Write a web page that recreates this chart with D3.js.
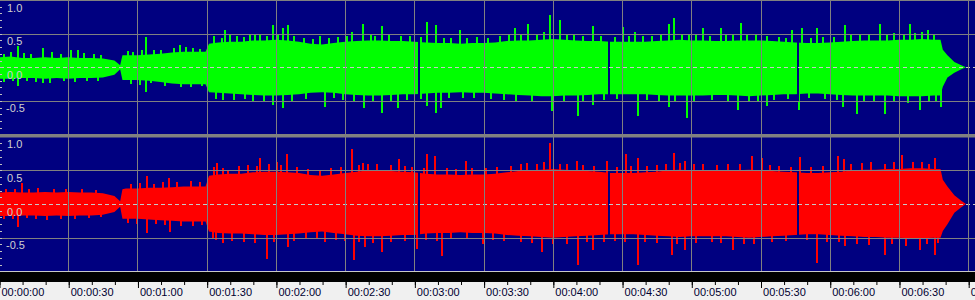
<!DOCTYPE html>
<html>
<head>
<meta charset="utf-8">
<script src="https://cdn.jsdelivr.net/npm/d3@7"></script>
<style>
  html, body { margin: 0; padding: 0; background: #f0f0f0; overflow: hidden; }
  svg { display: block; }
  text { font-family: "Liberation Sans", Arial, sans-serif; font-size: 11px; }
</style>
</head>
<body>
<div id="chart"></div>
<script>
const width = 975, height = 300;

// envelope sample times (seconds)
const envTimes = [
  0, 5, 10, 15, 20, 25, 30, 35, 40, 45,
  50, 52.5, 53.5, 55, 60, 65, 70, 75, 80, 85,
  89.5, 91, 95, 100, 105, 110, 115, 120, 125, 130,
  135, 140, 145, 150, 155, 160, 165, 170, 175, 180,
  185, 190, 195, 200, 205, 210, 215, 220, 225, 230,
  235, 240, 245, 250, 255, 260, 265, 270, 275, 280,
  285, 290, 295, 300, 305, 310, 315, 320, 325, 330,
  335, 340, 345, 350, 355, 360, 365, 370, 375, 380,
  385, 390, 395, 400, 405, 408, 409, 411, 414, 417,
  419
];

// left channel (green) body, upper and lower extent
const greenTop = [
  0.15, 0.16, 0.14, 0.14, 0.15, 0.14, 0.15, 0.14, 0.14, 0.13,
  0.10, 0.03, 0.18, 0.18, 0.18, 0.19, 0.20, 0.22, 0.23, 0.23,
  0.23, 0.35, 0.37, 0.38, 0.38, 0.40, 0.40, 0.41, 0.40, 0.38,
  0.35, 0.34, 0.36, 0.38, 0.39, 0.40, 0.40, 0.39, 0.39, 0.38,
  0.37, 0.36, 0.36, 0.35, 0.36, 0.36, 0.37, 0.39, 0.40, 0.40,
  0.41, 0.42, 0.41, 0.40, 0.39, 0.39, 0.38, 0.38, 0.38, 0.38,
  0.39, 0.40, 0.41, 0.40, 0.40, 0.39, 0.39, 0.40, 0.40, 0.40,
  0.39, 0.38, 0.37, 0.36, 0.36, 0.37, 0.38, 0.39, 0.40, 0.40,
  0.40, 0.41, 0.41, 0.42, 0.41, 0.41, 0.26, 0.18, 0.08, 0.03,
  0.0
];
const greenBottom = [
  0.17, 0.17, 0.16, 0.16, 0.17, 0.16, 0.17, 0.16, 0.16, 0.15,
  0.11, 0.03, 0.19, 0.19, 0.19, 0.20, 0.22, 0.24, 0.25, 0.25,
  0.25, 0.37, 0.38, 0.39, 0.40, 0.41, 0.42, 0.42, 0.41, 0.40,
  0.38, 0.37, 0.38, 0.40, 0.41, 0.42, 0.42, 0.41, 0.40, 0.40,
  0.39, 0.38, 0.38, 0.37, 0.38, 0.38, 0.39, 0.40, 0.41, 0.42,
  0.43, 0.43, 0.42, 0.42, 0.41, 0.40, 0.40, 0.40, 0.40, 0.40,
  0.41, 0.42, 0.42, 0.42, 0.42, 0.41, 0.41, 0.42, 0.43, 0.42,
  0.41, 0.40, 0.40, 0.39, 0.39, 0.40, 0.41, 0.42, 0.42, 0.42,
  0.42, 0.43, 0.43, 0.43, 0.42, 0.42, 0.29, 0.15, 0.08, 0.03,
  0.0
];

// right channel (red) body
const redTop = [
  0.17, 0.18, 0.17, 0.17, 0.18, 0.17, 0.18, 0.17, 0.17, 0.16,
  0.12, 0.04, 0.22, 0.23, 0.23, 0.24, 0.24, 0.25, 0.26, 0.26,
  0.26, 0.42, 0.44, 0.45, 0.45, 0.47, 0.48, 0.48, 0.47, 0.46,
  0.43, 0.42, 0.44, 0.46, 0.48, 0.50, 0.50, 0.49, 0.48, 0.47,
  0.45, 0.44, 0.44, 0.43, 0.44, 0.44, 0.45, 0.47, 0.49, 0.50,
  0.51, 0.52, 0.51, 0.50, 0.49, 0.48, 0.46, 0.46, 0.46, 0.47,
  0.48, 0.50, 0.51, 0.50, 0.50, 0.49, 0.49, 0.50, 0.51, 0.50,
  0.49, 0.48, 0.47, 0.46, 0.46, 0.47, 0.48, 0.50, 0.51, 0.51,
  0.52, 0.52, 0.53, 0.53, 0.52, 0.52, 0.36, 0.26, 0.13, 0.05,
  0.0
];
const redBottom = [
  0.18, 0.18, 0.17, 0.17, 0.18, 0.17, 0.18, 0.17, 0.17, 0.16,
  0.12, 0.04, 0.22, 0.22, 0.22, 0.23, 0.24, 0.25, 0.26, 0.26,
  0.26, 0.41, 0.43, 0.44, 0.44, 0.45, 0.46, 0.46, 0.45, 0.44,
  0.42, 0.41, 0.43, 0.45, 0.47, 0.48, 0.48, 0.47, 0.46, 0.46,
  0.44, 0.43, 0.43, 0.42, 0.43, 0.43, 0.44, 0.46, 0.47, 0.48,
  0.49, 0.50, 0.49, 0.48, 0.47, 0.46, 0.45, 0.45, 0.45, 0.46,
  0.47, 0.48, 0.49, 0.48, 0.48, 0.48, 0.48, 0.49, 0.50, 0.49,
  0.48, 0.47, 0.46, 0.45, 0.45, 0.46, 0.47, 0.48, 0.49, 0.49,
  0.50, 0.50, 0.51, 0.51, 0.50, 0.50, 0.40, 0.30, 0.13, 0.05,
  0.0
];

// single peaks standing well out of the body: [time s, amplitude]
const greenSpikes = [
  [8.2, 0.31], [19.1, 0.28], [31.2, 0.26], [34.2, 0.26], [63.7, 0.45], [78.4, 0.33],
  [97.9, 0.55], [100.1, 0.48], [108.8, 0.50], [113.1, 0.50], [118.7, 0.63], [123.1, 0.58],
  [125.2, 0.63], [139.1, 0.46], [153.0, 0.53], [157.7, 0.64], [166.0, 0.61], [185.5, 0.68],
  [189.4, 0.63], [199.8, 0.55], [223.6, 0.58], [229.2, 0.64], [238.8, 0.78], [243.1, 0.70],
  [257.4, 0.61], [270.4, 0.60], [275.6, 0.53], [290.3, 0.65], [292.5, 0.73], [305.1, 0.59],
  [312.9, 0.59], [321.5, 0.66], [343.6, 0.56], [348.0, 0.58], [354.5, 0.59], [366.6, 0.63],
  [381.8, 0.65], [394.8, 0.65], [402.6, 0.56],
  [8.2, -0.28], [19.1, -0.24], [63.7, -0.36], [74.1, -0.24], [97.1, -0.49], [106.6, -0.47],
  [118.7, -0.56], [123.1, -0.61], [141.3, -0.59], [158.2, -0.61], [166.0, -0.68], [172.9, -0.61],
  [185.5, -0.58], [189.4, -0.68], [191.5, -0.61], [239.6, -0.65], [250.9, -0.72], [257.4, -0.56],
  [276.9, -0.72], [290.3, -0.59], [298.1, -0.76], [320.2, -0.64], [332.8, -0.58], [346.7, -0.64],
  [365.7, -0.59], [371.8, -0.69], [383.9, -0.69], [399.1, -0.64], [408.2, -0.59]
];
const redSpikes = [
  [10.0, 0.31], [64.1, 0.41], [73.7, 0.38], [94.5, 0.61], [99.2, 0.51], [113.1, 0.68],
  [120.5, 0.63], [124.8, 0.74], [139.1, 0.49], [153.0, 0.81], [157.7, 0.61], [173.3, 0.67],
  [185.5, 0.74], [189.0, 0.71], [202.4, 0.64], [228.8, 0.61], [238.8, 0.90], [243.1, 0.59],
  [250.5, 0.64], [263.5, 0.64], [271.7, 0.74], [276.9, 0.69], [292.5, 0.76], [297.3, 0.64],
  [326.3, 0.71], [330.6, 0.68], [347.1, 0.70], [363.6, 0.71], [366.2, 0.67], [391.3, 0.73],
  [405.6, 0.69],
  [8.2, -0.34], [64.1, -0.43], [74.1, -0.41], [92.7, -0.50], [97.1, -0.58], [116.1, -0.82],
  [125.2, -0.64], [141.3, -0.56], [153.8, -0.83], [158.6, -0.64], [166.0, -0.72], [181.1, -0.67],
  [192.0, -0.78], [209.7, -0.59], [235.3, -0.72], [250.9, -0.91], [257.4, -0.69], [271.3, -0.56],
  [276.9, -0.91], [291.6, -0.76], [297.3, -0.69], [318.1, -0.69], [354.5, -0.88], [366.6, -0.63],
  [383.9, -0.76], [399.1, -0.69], [405.6, -0.76]
];

// smaller peaks forming the ragged edge of the body
const greenFringe = [
  [2, 0.20], [5, 0.22], [11, 0.21], [14, 0.20], [23, 0.22], [27, 0.20], [37, 0.21], [41, 0.20],
  [44, 0.18], [56, 0.24], [58, 0.22], [62, 0.25], [67, 0.26], [70, 0.25], [76, 0.28], [81, 0.30],
  [84, 0.28], [87, 0.27],
  [93, 0.46], [96.5, 0.44], [103, 0.47], [106, 0.45], [111, 0.49], [116, 0.47], [121, 0.50],
  [128, 0.46], [132, 0.43], [136, 0.42], [143, 0.44], [147, 0.45], [151, 0.47], [161, 0.49],
  [163, 0.47], [169, 0.48], [174, 0.46], [178, 0.47], [183, 0.45], [193, 0.44], [196, 0.43],
  [203, 0.43], [207, 0.45], [212, 0.44], [217, 0.46], [221, 0.48], [226, 0.49], [233, 0.50],
  [236, 0.52], [246, 0.50], [249, 0.48], [253, 0.47], [261, 0.46], [267, 0.45], [273, 0.47],
  [279, 0.46], [283, 0.47], [287, 0.49], [296, 0.50], [299, 0.48], [302, 0.48], [308, 0.47],
  [315, 0.48], [318, 0.49], [324, 0.48], [328, 0.49], [333, 0.46], [338, 0.45], [341, 0.44],
  [352, 0.44], [357, 0.45], [362, 0.45], [369, 0.48], [373, 0.49], [377, 0.50], [385, 0.49],
  [388, 0.51], [392, 0.50], [397, 0.51], [400, 0.52], [405, 0.50],
  [2, -0.22], [6, -0.21], [12, -0.20], [16, -0.22], [22, -0.23], [28, -0.21], [33, -0.22],
  [38, -0.20], [43, -0.21], [57, -0.25], [61, -0.26], [66, -0.24], [72, -0.28], [79, -0.30],
  [83, -0.29], [88, -0.28],
  [94, -0.47], [102, -0.48], [110, -0.50], [115, -0.52], [127, -0.50], [133, -0.47], [145, -0.46],
  [149, -0.48], [154, -0.50], [162, -0.52], [170, -0.51], [177, -0.49], [183, -0.47], [195, -0.46],
  [201, -0.45], [206, -0.46], [213, -0.47], [219, -0.48], [224, -0.50], [231, -0.51], [245, -0.52],
  [253, -0.50], [262, -0.48], [268, -0.47], [281, -0.48], [286, -0.50], [293, -0.51], [301, -0.50],
  [309, -0.49], [316, -0.50], [325, -0.52], [329, -0.50], [336, -0.48], [342, -0.47], [351, -0.46],
  [358, -0.47], [363, -0.49], [375, -0.50], [379, -0.52], [388, -0.51], [394, -0.53], [403, -0.52],
  [406, -0.50]
];
const redFringe = [
  [3, 0.22], [7, 0.23], [13, 0.22], [17, 0.24], [24, 0.22], [29, 0.23], [36, 0.22], [42, 0.21],
  [57, 0.30], [61, 0.31], [67, 0.30], [71, 0.32], [77, 0.33], [83, 0.34], [87, 0.32],
  [93, 0.55], [97, 0.53], [104, 0.56], [108, 0.58], [112, 0.57], [117, 0.60], [122, 0.58],
  [129, 0.55], [134, 0.52], [144, 0.53], [148, 0.55], [156, 0.58], [160, 0.60], [164, 0.59],
  [170, 0.58], [176, 0.56], [179, 0.55], [184, 0.54], [194, 0.53], [198, 0.52], [205, 0.53],
  [211, 0.54], [216, 0.55], [222, 0.57], [226, 0.59], [233, 0.60], [236, 0.62], [246, 0.60],
  [253, 0.58], [258, 0.57], [268, 0.55], [274, 0.57], [281, 0.56], [285, 0.58], [289, 0.60],
  [295, 0.61], [301, 0.60], [305, 0.59], [311, 0.58], [316, 0.59], [321, 0.60], [334, 0.58],
  [338, 0.56], [343, 0.55], [352, 0.55], [357, 0.56], [369, 0.59], [374, 0.61], [378, 0.62],
  [384, 0.60], [388, 0.62], [396, 0.63], [400, 0.62], [403, 0.60],
  [2, -0.23], [6, -0.22], [12, -0.21], [16, -0.23], [21, -0.24], [27, -0.22], [33, -0.23],
  [39, -0.21], [44, -0.20], [56, -0.28], [60, -0.30], [68, -0.29], [72, -0.31], [79, -0.33],
  [84, -0.32], [88, -0.31],
  [94, -0.53], [101, -0.55], [106, -0.57], [111, -0.58], [119, -0.56], [128, -0.55], [133, -0.52],
  [138, -0.51], [146, -0.53], [150, -0.55], [156, -0.57], [162, -0.58], [170, -0.57], [176, -0.55],
  [185, -0.54], [190, -0.55], [196, -0.52], [203, -0.51], [214, -0.53], [219, -0.55], [226, -0.57],
  [231, -0.58], [240, -0.60], [246, -0.59], [255, -0.57], [262, -0.56], [267, -0.55], [280, -0.56],
  [285, -0.58], [294, -0.60], [302, -0.58], [309, -0.57], [313, -0.58], [323, -0.60], [327, -0.59],
  [335, -0.56], [341, -0.55], [350, -0.54], [359, -0.56], [364, -0.57], [372, -0.60], [377, -0.61],
  [387, -0.60], [393, -0.62], [402, -0.60], [407, -0.58]
];

// short silences (dark lines through both channels)
const gapTimes = [181.8, 264.5, 346.4];

const timeTicks = [0, 30, 60, 90, 120, 150, 180, 210, 240, 270, 300, 330, 360, 390, 420];
const levelTicks = [1.0, 0.5, 0.0, -0.5];

const x = d3.scaleLinear().domain([0, 420]).range([-1, 968.2]);
const px = t => Math.round(x(t)) + 0.5;

const channels = [
  { top: greenTop, bottom: greenBottom, peaks: greenSpikes.concat(greenFringe), color: '#00ff00',
    y: d3.scaleLinear().domain([-1, 1]).range([134.6, 0]) },
  { top: redTop, bottom: redBottom, peaks: redSpikes.concat(redFringe), color: '#ff0000',
    y: d3.scaleLinear().domain([-1, 1]).range([271.3, 136.7]) }
];

const svg = d3.select('#chart').append('svg')
  .attr('width', width)
  .attr('height', height);

svg.append('rect')
  .attr('width', width).attr('height', 272)
  .attr('fill', '#000080');

channels.forEach(ch => {
  const g = svg.append('g');

  const area = d3.area()
    .x((d, i) => x(envTimes[i]))
    .y0((d, i) => ch.y(-ch.bottom[i]))
    .y1((d, i) => ch.y(ch.top[i]));

  g.append('path')
    .datum(ch.top)
    .attr('d', area)
    .attr('fill', ch.color);

  g.selectAll('line')
    .data(ch.peaks)
    .join('line')
    .attr('x1', d => Math.round(x(d[0]))).attr('x2', d => Math.round(x(d[0])))
    .attr('y1', ch.y(0)).attr('y2', d => ch.y(d[1]))
    .attr('stroke', ch.color)
    .attr('stroke-width', 2)
    .attr('shape-rendering', 'crispEdges');

  g.selectAll('rect')
    .data(gapTimes)
    .join('rect')
    .attr('x', d => Math.round(x(d)) - 1).attr('width', 2)
    .attr('y', ch.y(0.5)).attr('height', ch.y(-0.5) - ch.y(0.5))
    .attr('fill', '#000080');

  // grid
  g.selectAll('line.h')
    .data([0.5, -0.5])
    .join('line')
    .attr('class', 'h')
    .attr('x1', 0).attr('x2', width)
    .attr('y1', d => Math.round(ch.y(d)) + 0.5).attr('y2', d => Math.round(ch.y(d)) + 0.5)
    .attr('stroke', '#808080');

  g.append('line')
    .attr('x1', 0).attr('x2', width)
    .attr('y1', Math.round(ch.y(0)) + 0.5).attr('y2', Math.round(ch.y(0)) + 0.5)
    .attr('stroke', '#c8c8c8')
    .attr('stroke-dasharray', '4,3');

  // small level ticks on the left edge
  g.selectAll('line.mt')
    .data(d3.range(-9, 10).map(v => v / 10))
    .join('line')
    .attr('class', 'mt')
    .attr('x1', 0).attr('x2', 2)
    .attr('y1', d => Math.round(ch.y(d)) + 0.5).attr('y2', d => Math.round(ch.y(d)) + 0.5)
    .attr('stroke', '#c0c0c0');
});

// vertical grid
svg.append('g')
  .selectAll('line')
  .data(timeTicks.slice(1))
  .join('line')
  .attr('x1', d => px(d)).attr('x2', d => px(d))
  .attr('y1', 0).attr('y2', 283)
  .attr('stroke', '#808080');

svg.append('rect')
  .attr('x', 0).attr('y', 0).attr('width', width).attr('height', 1)
  .attr('fill', '#808080');

svg.append('rect')
  .attr('x', 0).attr('y', 134).attr('width', width).attr('height', 3.5)
  .attr('fill', '#808080');

// level labels
channels.forEach(ch => {
  svg.append('g')
    .selectAll('text')
    .data(levelTicks)
    .join('text')
    .attr('x', d => d < 0 ? 6 : 7)
    .attr('y', d => ch.y(d) + 11.5)
    .attr('fill', '#d0d0d0')
    .text(d => d.toFixed(1));
});

// time ruler
svg.append('rect')
  .attr('x', 0).attr('y', 271).attr('width', width).attr('height', 1)
  .attr('fill', '#c8c8c8');
svg.append('rect')
  .attr('x', 0).attr('y', 272).attr('width', width).attr('height', 10)
  .attr('fill', '#000');
svg.append('rect')
  .attr('x', 0).attr('y', 282).attr('width', width).attr('height', 18)
  .attr('fill', '#f0f0f0');

const fmt = d3.format('02d');
const timeFormat = s => `00:${fmt(Math.floor(s / 60))}:${fmt(s % 60)}`;

const minorAxis = d3.axisBottom(x)
  .tickValues(d3.range(0, 421, 10))
  .tickSize(3)
  .tickFormat('');

svg.append('g')
  .attr('transform', 'translate(0.5, 282)')
  .call(minorAxis)
  .call(g => g.select('.domain').remove())
  .call(g => g.selectAll('line').attr('stroke', '#000'));

const timeAxis = d3.axisBottom(x)
  .tickValues(timeTicks)
  .tickSize(6)
  .tickFormat(timeFormat);

svg.append('g')
  .attr('transform', 'translate(0.5, 282)')
  .call(timeAxis)
  .call(g => g.select('.domain').remove())
  .call(g => g.selectAll('line').attr('stroke', '#000'))
  .call(g => g.selectAll('text')
    .attr('text-anchor', 'start')
    .attr('x', 1.5)
    .attr('y', 14)
    .attr('dy', 0)
    .attr('fill', '#000030')
    .style('font-family', '"Liberation Sans", Arial, sans-serif')
    .style('font-size', '11px'));
</script>
</body>
</html>
